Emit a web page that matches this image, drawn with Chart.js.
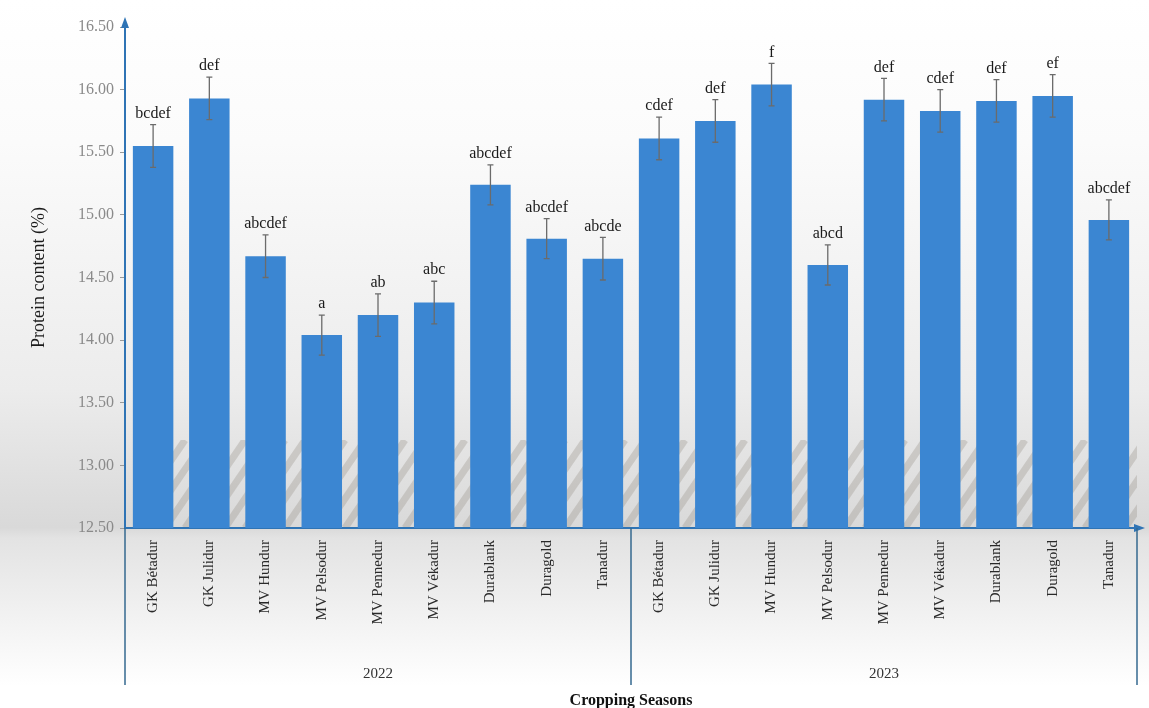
<!DOCTYPE html>
<html>
<head>
<meta charset="utf-8">
<script src="https://cdn.jsdelivr.net/npm/chart.js@4"></script>
<style>
  html, body { margin: 0; padding: 0; background: #fff; }
  #wrap { width: 1149px; height: 708px; }
</style>
</head>
<body>
<div id="wrap"><canvas id="chart" width="1149" height="708"></canvas></div>
<script>
// data
const varieties = ['GK Bétadur', 'GK Julidur', 'MV Hundur', 'MV Pelsodur', 'MV Pennedur',
                   'MV Vékadur', 'Durablank', 'Duragold', 'Tanadur'];
const seasons = ['2022', '2023'];

const protein2022 = [15.55, 15.93, 14.67, 14.04, 14.20, 14.30, 15.24, 14.81, 14.65];
const protein2023 = [15.61, 15.75, 16.04, 14.60, 15.92, 15.83, 15.91, 15.95, 14.96];

const error2022 = [0.17, 0.17, 0.17, 0.16, 0.17, 0.17, 0.16, 0.16, 0.17];
const error2023 = [0.17, 0.17, 0.17, 0.16, 0.17, 0.17, 0.17, 0.17, 0.16];

const letters2022 = ['bcdef', 'def', 'abcdef', 'a', 'ab', 'abc', 'abcdef', 'abcdef', 'abcde'];
const letters2023 = ['cdef', 'def', 'f', 'abcd', 'def', 'cdef', 'def', 'ef', 'abcdef'];

const yTicks = [12.5, 13, 13.5, 14, 14.5, 15, 15.5, 16, 16.5];

const labels = varieties.concat(varieties);
const values = protein2022.concat(protein2023);
const errors = error2022.concat(error2023);
const letters = letters2022.concat(letters2023);

const SERIF = '"Liberation Serif", "DejaVu Serif", serif';
const AXIS_BLUE = '#2f74b5';

const backdrop = {
  id: 'backdrop',
  beforeDraw(chart) {
    const { ctx, width, height, chartArea: a } = chart;
    ctx.save();
    const g = ctx.createLinearGradient(0, 0, 0, height);
    g.addColorStop(0, '#ffffff');
    g.addColorStop(0.2, '#fbfbfb');
    g.addColorStop(0.55, '#ececec');
    g.addColorStop(0.745, '#d9d9d9');
    g.addColorStop(0.76, '#e3e3e3');
    g.addColorStop(0.97, '#ffffff');
    g.addColorStop(1, '#ffffff');
    ctx.fillStyle = g;
    ctx.fillRect(0, 0, width, height);

    // faint striped ribbon low in the plot area
    ctx.beginPath();
    ctx.rect(a.left + 40, a.bottom - 88, a.right - a.left - 40, 88);
    ctx.clip();
    ctx.lineWidth = 7;
    ctx.strokeStyle = 'rgba(150,142,135,0.32)';
    for (let x = a.left - 200; x < a.right + 100; x += 20) {
      ctx.beginPath();
      ctx.moveTo(x, a.bottom);
      ctx.lineTo(x + 60, a.bottom - 88);
      ctx.stroke();
    }
    ctx.restore();
  }
};

const extras = {
  id: 'extras',
  afterDatasetsDraw(chart) {
    const { ctx, chartArea: a } = chart;
    const xs = chart.scales.x;
    const ys = chart.scales.y;
    ctx.save();

    // error bars and letters
    values.forEach((v, i) => {
      const x = xs.getPixelForValue(i);
      const top = ys.getPixelForValue(v + errors[i]);
      const bot = ys.getPixelForValue(v - errors[i]);
      ctx.strokeStyle = '#6b6b6b';
      ctx.lineWidth = 1.3;
      ctx.beginPath();
      ctx.moveTo(x, top); ctx.lineTo(x, bot);
      ctx.moveTo(x - 3, top); ctx.lineTo(x + 3, top);
      ctx.moveTo(x - 3, bot); ctx.lineTo(x + 3, bot);
      ctx.stroke();

      ctx.fillStyle = '#1a1a1a';
      ctx.font = '16px ' + SERIF;
      ctx.textAlign = 'center';
      ctx.textBaseline = 'bottom';
      ctx.fillText(letters[i], x, top - 3);
    });

    // arrows on the axes
    ctx.fillStyle = AXIS_BLUE;
    ctx.beginPath();
    ctx.moveTo(a.left, a.top - 10);
    ctx.lineTo(a.left - 4, a.top + 1);
    ctx.lineTo(a.left + 4, a.top + 1);
    ctx.closePath();
    ctx.fill();
    ctx.beginPath();
    ctx.moveTo(a.right + 8, a.bottom);
    ctx.lineTo(a.right - 3, a.bottom - 4);
    ctx.lineTo(a.right - 3, a.bottom + 4);
    ctx.closePath();
    ctx.fill();

    // season separators and labels
    const step = xs.getPixelForValue(1) - xs.getPixelForValue(0);
    const n = varieties.length;
    ctx.strokeStyle = '#35688f';
    ctx.lineWidth = 1.5;
    const edges = [0, n, 2 * n].map(k => xs.getPixelForValue(k) - step / 2);
    edges[2] = a.right;
    edges[0] = a.left;
    edges.forEach(x => {
      ctx.beginPath();
      ctx.moveTo(x, a.bottom);
      ctx.lineTo(x, a.bottom + 157);
      ctx.stroke();
    });
    ctx.fillStyle = '#333';
    ctx.font = '15px ' + SERIF;
    ctx.textAlign = 'center';
    ctx.textBaseline = 'middle';
    seasons.forEach((s, k) => {
      ctx.fillText(s, (edges[k] + edges[k + 1]) / 2, a.bottom + 146);
    });

    ctx.fillStyle = '#111';
    ctx.font = 'bold 16px ' + SERIF;
    ctx.fillText('Cropping Seasons', (a.left + a.right) / 2, a.bottom + 173);
    ctx.restore();
  }
};

new Chart(document.getElementById('chart'), {
  type: 'bar',
  data: {
    labels: labels,
    datasets: [{
      label: 'Protein content (%)',
      data: values,
      backgroundColor: '#3b86d2',
      borderWidth: 0,
      barPercentage: 0.72,
      categoryPercentage: 1
    }]
  },
  options: {
    responsive: false,
    animation: false,
    layout: { padding: { top: 27, right: 12, left: 0, bottom: 0 } },
    plugins: {
      legend: { display: false },
      tooltip: { enabled: false }
    },
    scales: {
      x: {
        afterFit(scale) { scale.height = 180; },
        grid: { display: false },
        border: { color: AXIS_BLUE, width: 2 },
        ticks: {
          minRotation: 90,
          maxRotation: 90,
          autoSkip: false,
          padding: 4,
          color: '#2a2a2a',
          font: { family: SERIF, size: 15 }
        }
      },
      y: {
        min: 12.5,
        max: 16.5,
        afterFit(scale) { scale.width = 125; },
        afterBuildTicks(scale) { scale.ticks = yTicks.map(v => ({ value: v })); },
        grid: { drawOnChartArea: false, drawTicks: true, tickLength: 5, color: '#9a9a9a' },
        border: { color: AXIS_BLUE, width: 2 },
        ticks: {
          color: '#8a8a8a',
          padding: 6,
          font: { family: SERIF, size: 16 },
          callback: v => Number(v).toFixed(2)
        },
        title: {
          display: true,
          text: 'Protein content (%)',
          color: '#1a1a1a',
          font: { family: SERIF, size: 18 },
          padding: { top: 28, bottom: 0 }
        }
      }
    }
  },
  plugins: [backdrop, extras]
});
</script>
</body>
</html>
